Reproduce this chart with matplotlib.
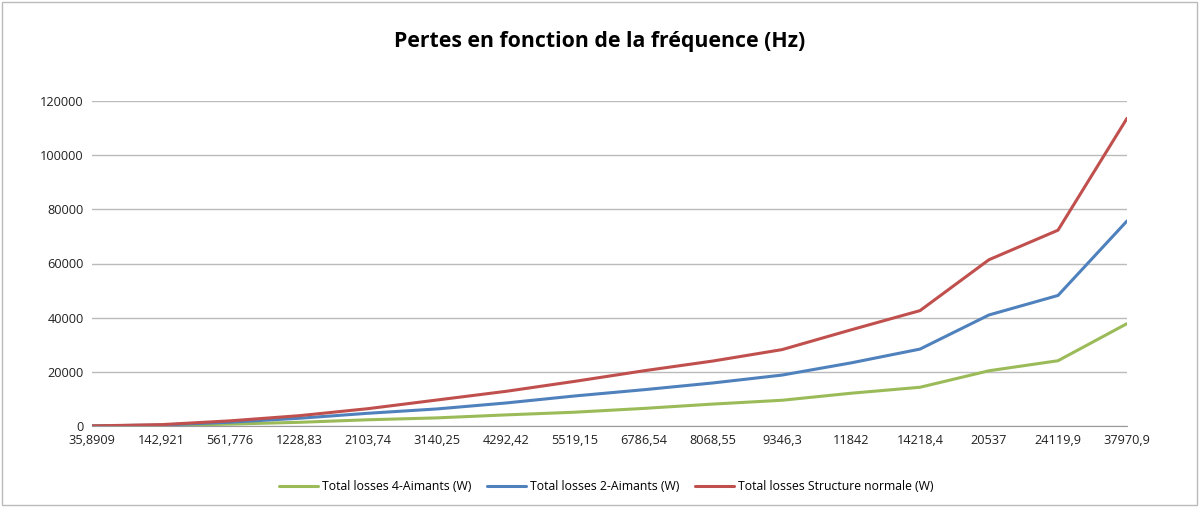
import matplotlib
matplotlib.use("Agg")
import matplotlib.pyplot as plt
from matplotlib.patches import Rectangle

categories = ["35,8909", "142,921", "561,776", "1228,83", "2103,74", "3140,25",
              "4292,42", "5519,15", "6786,54", "8068,55", "9346,3", "11842",
              "14218,4", "20537", "24119,9", "37970,9"]
green_4aimants = [10, 180, 700, 1360, 2300, 3000, 4100, 5100, 6500, 8100, 9500,
                  12100, 14300, 20400, 24100, 37800]
blue_2aimants = [20, 350, 1400, 2850, 4700, 6300, 8500, 11100, 13400, 15900, 18800,
                 23300, 28400, 41000, 48200, 75700]
red_normale = [30, 500, 1900, 3800, 6400, 9600, 12800, 16500, 20400, 24000, 28200,
               35500, 42600, 61400, 72300, 113600]
series_names = ["Total losses 4-Aimants (W)", "Total losses 2-Aimants (W)",
                "Total losses Structure normale (W)"]
yticks = [0, 20000, 40000, 60000, 80000, 100000, 120000]

plt.rcParams['font.family'] = ['Open Sans', 'DejaVu Sans']

fig = plt.figure(figsize=(12, 5.07), dpi=100)
ax = fig.add_axes([92/1200, 1 - 426/507, (1127-92)/1200, (426-101)/507])

x = list(range(len(categories)))
colors = ["#9BBB59", "#4F81BD", "#C0504D"]
for vals, name, c in zip([green_4aimants, blue_2aimants, red_normale], series_names, colors):
    ax.plot(x, vals, color=c, lw=2.2, label=name, solid_capstyle='round')

ax.set_xlim(0, len(categories) - 1)
ax.set_ylim(0, 120000)
ax.set_yticks(yticks)
ax.set_yticklabels([str(v) for v in yticks], fontsize=9.2, color="#222222")
ax.set_xticks(x)
ax.set_xticklabels(categories, fontsize=9.2, color="#222222")
ax.grid(axis='y', color="#BBBBBB", lw=1)
ax.set_axisbelow(True)
for s in ['top', 'right', 'left']:
    ax.spines[s].set_visible(False)
ax.spines['bottom'].set_color("#999999")
ax.tick_params(axis='x', length=0, pad=6)
ax.tick_params(axis='y', length=0, pad=6)

fig.text(0.5, 1 - 42/507, "Pertes en fonction de la fréquence (Hz)", ha='center', va='center',
         fontsize=15.3, fontweight='bold', color="#000000")

leg = fig.legend(loc='center', bbox_to_anchor=(606/1200, 1 - 487/507), ncol=3, frameon=False,
                 fontsize=8.8, handlelength=3.2, handletextpad=0.3, columnspacing=1.3)

fig.patches.append(Rectangle((2/1200, 2/507), 1195/1200, 503/507, transform=fig.transFigure,
                             fill=False, edgecolor="#BBBBBB", lw=1))

fig.savefig("out.png", dpi=100)
